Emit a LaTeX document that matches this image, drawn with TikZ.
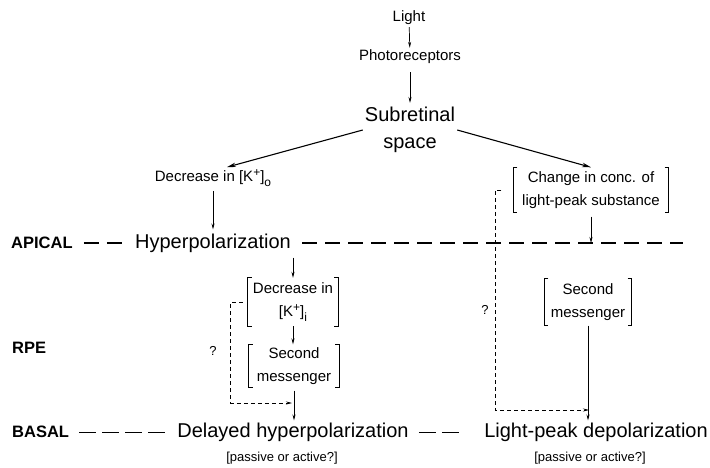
\documentclass[tikz,border=0pt]{standalone}
\usepackage{fontspec}
\setmainfont{Liberation Sans}
\usetikzlibrary{arrows.meta}

\newcommand{\ionup}{\raisebox{0.6ex}{\fontsize{12}{12}\selectfont +}}
\newcommand{\iondown}[1]{\raisebox{-0.7ex}{\fontsize{12}{12}\selectfont #1}}

\begin{document}
\begin{tikzpicture}
[x=1pt,y=-1pt,%
  thinArrow/.style={-{Stealth[length=6pt,width=3pt]},line width=0.7pt},%
  mainArrow/.style={-{Stealth[length=9pt,width=4.5pt]},line width=1.1pt},%
  feedback/.style={-{Stealth[length=6pt,width=3pt]},line width=0.8pt,dash pattern=on 4pt off 3pt},%
  apicalLine/.style={line width=1.1pt,dash pattern=on 15pt off 8pt},%
  basalLine/.style={line width=0.8pt,dash pattern=on 17pt off 6pt},%
  bracket/.style={line width=0.9pt},%
  smallText/.style={font=\fontsize{15}{23}\selectfont,align=center,inner sep=2pt},%
  bigText/.style={font=\fontsize{20}{27}\selectfont,align=center,inner sep=2pt},%
  noteText/.style={font=\fontsize{13}{13}\selectfont,inner sep=1pt},%
  layerLabel/.style={font=\fontsize{16.5}{16.5}\selectfont\bfseries,anchor=west,inner sep=0pt}]
\useasboundingbox (0,0) rectangle (710,468);
%% top chain
\node[smallText] (light) at (409,18) {Light};
\node[smallText] (photo) at (410,57) {Photoreceptors};
\node[bigText] (sub) at (410,130) {Subretinal\\space};
\node[smallText] (kout) at (213,178) {Decrease in [K\ionup]\iondown{o}};
%% layer labels and levels
\node[layerLabel] (apical) at (11,243) {APICAL};
\node[layerLabel] (rpe) at (12,348) {RPE};
\node[layerLabel] (basal) at (12,432) {BASAL};
\node[bigText] (hyp) at (213,243) {Hyperpolarization};
\node[bigText] (del) at (293,432) {Delayed hyperpolarization};
\node[bigText] (lpd) at (596,432) {Light-peak depolarization};
\node[noteText] (pa1) at (282,458) {[passive or active?]};
\node[noteText] (pa2) at (590,458) {[passive or active?]};
\coordinate (apr) at (683,243);
%% bracketed steps
\node[smallText,minimum width=90pt,minimum height=48pt] (kin) at (293,302) {Decrease in\\{}[K\ionup]\iondown{i}};
\node[smallText,minimum width=90pt,minimum height=43pt] (sm1) at (294,366) {Second\\messenger};
\node[smallText,minimum width=155pt,minimum height=45pt] (chg) at (591,190) {Change in conc. of\\light-peak substance};
\node[smallText,minimum width=87pt,minimum height=47pt] (sm2) at (588,302) {Second\\messenger};
\foreach \bname in {kin,sm1,chg,sm2}
{
  \draw[bracket] ([xshift=4pt]\bname.north west) -- (\bname.north west) -- (\bname.south west) -- ++(4pt,0);
  \draw[bracket] ([xshift=-4pt]\bname.north east) -- (\bname.north east) -- (\bname.south east) -- ++(-4pt,0);
}
%% question marks
\node[noteText] (q1) at (213,351) {?};
\node[noteText] (q2) at (485,310) {?};
\coordinate (fbl) at (292,403);
\coordinate (fbr) at (589,410);
%% dashed levels
\draw[apicalLine] ([xshift=11pt]apical.east) -- ++(38pt,0);
\draw[apicalLine] ([xshift=9pt]hyp.east) -- (apr);
\draw[basalLine] ([xshift=10pt]basal.east) -- ++(86pt,0);
\draw[basalLine] ([xshift=8pt]del.east) -- ++(40pt,0);
%% connections
\draw[thinArrow] (light) -- (photo);
\draw[thinArrow,shorten <=6pt,shorten >=2pt] (photo) -- (sub);
\draw[mainArrow] (sub.west) -- ([xshift=14pt]kout.north);
\draw[mainArrow] (sub.east) -- (chg.north);
\draw[thinArrow,shorten <=2pt,shorten >=2pt] (kout) -- (hyp);
\draw[thinArrow,shorten <=3pt] (kin.north |- hyp.south) -- (kin.north);
\draw[thinArrow] (kin.south) -- (kin.south |- sm1.north);
\draw[thinArrow,shorten <=3pt] (sm1.south) -- (sm1.south |- del.north);
\draw[thinArrow,shorten <=4pt] (chg.south) -- (chg.south |- apr);
\draw[thinArrow] (sm2.south) -- (sm2.south |- lpd.north);
\draw[feedback] ([xshift=-5pt]kin.west) -- ++(-12pt,0) |- (fbl);
\draw[feedback] ([xshift=-12pt]chg.west) -- ++(-6pt,0) |- (fbr);
\end{tikzpicture}
\end{document}
